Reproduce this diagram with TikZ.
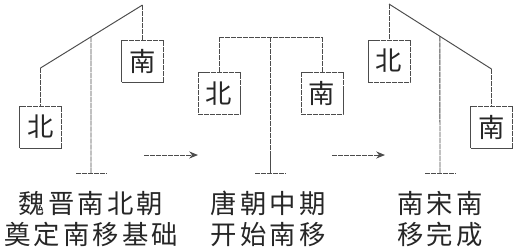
\documentclass[tikz,border=0pt]{standalone}
\usepackage{fontspec}
\newfontfamily\cjk[LetterSpace=12]{Noto Sans CJK SC}
\usetikzlibrary{arrows.meta,calc}

\begin{document}
\begin{tikzpicture}[
    x=0.02cm, y=-0.02cm,
    every node/.style={font=\cjk\fontsize{15pt}{17.5pt}\selectfont, text=black!85},
    weight/.style={rectangle, draw=gray!60!black, minimum size=0.84cm, inner sep=0pt, line width=0.55pt, dash pattern=on 3pt off 0.4pt},
    rod/.style={draw=gray!60!black, line width=0.55pt, dash pattern=on 3pt off 0.4pt},
    beam/.style={draw=gray!60!black, line width=0.55pt},
    caption/.style={align=center},
    >={Stealth[length=5pt,width=4pt]}
]
\useasboundingbox (0,0) rectangle (514,248);

% 魏晋南北朝: 北重南轻
\node[weight] (bei1) at (40.5,127) {北};
\node[weight] (nan1) at (142.5,61) {南};
\coordinate (b1l) at (40.5,68);
\coordinate (b1r) at (142.5,5);
\coordinate (p1t) at ($(b1l)!0.495!(b1r)$);
\coordinate (p1b) at (91,173);
\draw[beam] (b1l) -- (b1r);
\draw[rod] (b1l) -- (bei1.north);
\draw[rod] (b1r) -- (nan1.north);
\draw[rod] (p1t) -- (p1b);
\draw[rod] ([xshift=-0.3cm]p1b) -- ([xshift=0.3cm]p1b);
\node[caption] (t1) at (91,219) {魏晋南北朝\\奠定南移基础};

% 唐朝中期: 持平
\node[weight] (bei2) at (219,93.5) {北};
\node[weight] (nan2) at (322,93.5) {南};
\coordinate (b2l) at (219,37);
\coordinate (b2r) at (322,37);
\coordinate (p2t) at (270,37);
\coordinate (p2b) at (270,173);
\draw[rod] (b2l) -- (b2r);
\draw[rod] (b2l) -- (bei2.north);
\draw[rod] (b2r) -- (nan2.north);
\draw[rod] (p2t) -- (p2b);
\draw[rod] ([xshift=-0.3cm]p2b) -- ([xshift=0.3cm]p2b);
\node[caption] (t2) at (268,219) {唐朝中期\\开始南移};

% 南宋: 南重北轻
\node[weight] (bei3) at (389,61) {北};
\node[weight] (nan3) at (491.5,127) {南};
\coordinate (b3l) at (389,4);
\coordinate (b3r) at (491.5,69);
\coordinate (p3t) at ($(b3l)!0.497!(b3r)$);
\coordinate (p3b) at (440,173);
\draw[beam] (b3l) -- (b3r);
\draw[rod] (b3l) -- (bei3.north);
\draw[rod] (b3r) -- (nan3.north);
\draw[rod] (p3t) -- (p3b);
\draw[rod] ([xshift=-0.3cm]p3b) -- ([xshift=0.3cm]p3b);
\node[caption] (t3) at (440,219) {南宋南\\移完成};

% 箭头
\coordinate (a1s) at (144,155);
\coordinate (a1e) at (198,155);
\coordinate (a2s) at (332,155);
\coordinate (a2e) at (385,155);
\draw[rod,->] (a1s) -- (a1e);
\draw[rod,->] (a2s) -- (a2e);

\end{tikzpicture}
\end{document}
